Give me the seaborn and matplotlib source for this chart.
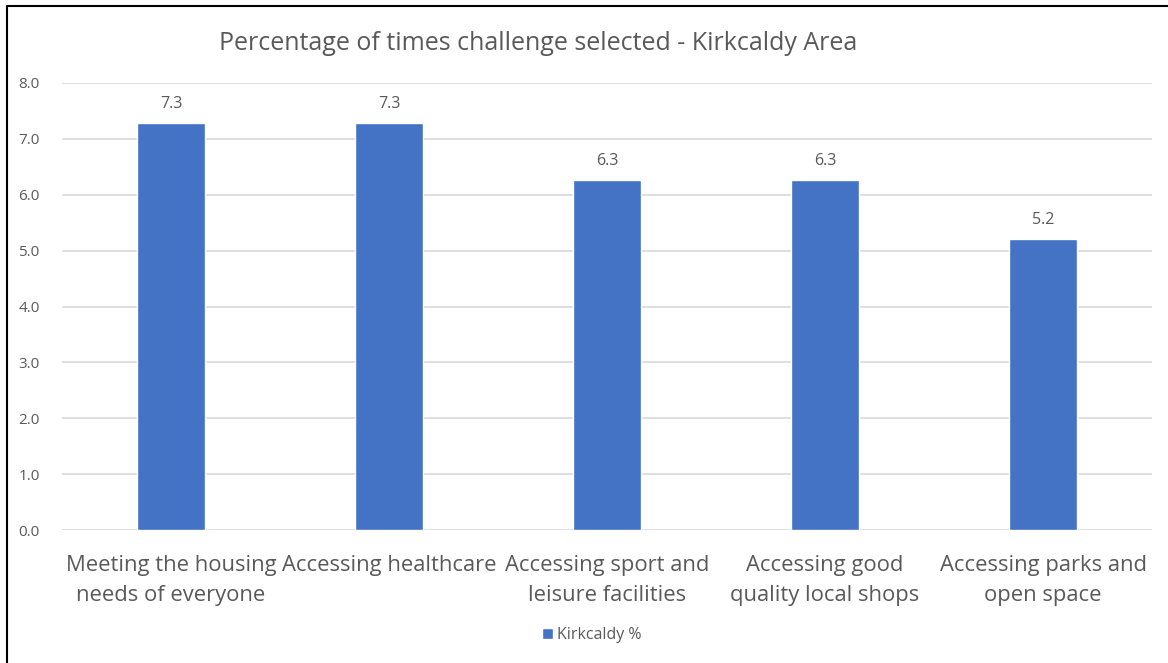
import matplotlib
matplotlib.use('Agg')
import matplotlib.pyplot as plt
import seaborn as sns
import pandas as pd
from matplotlib.patches import Patch
from matplotlib.lines import Line2D

categories = ['Meeting the housing\nneeds of everyone', 'Accessing healthcare',
              'Accessing sport and\nleisure facilities', 'Accessing good\nquality local shops',
              'Accessing parks and\nopen space']
values = [7.28, 7.28, 6.26, 6.26, 5.2]
series_name = 'Kirkcaldy %'
yticks = [0.0, 1.0, 2.0, 3.0, 4.0, 5.0, 6.0, 7.0, 8.0]

sns.set_style('white')
plt.rcParams['font.family'] = ['Open Sans', 'DejaVu Sans']

df = pd.DataFrame({'category': categories, 'value': values})

fig = plt.figure(figsize=(11.68, 6.63), dpi=100)
ax = fig.add_axes([62 / 1168, 1 - 530 / 663, 1090 / 1168, 447 / 663])

sns.barplot(data=df, x='category', y='value', color='#4472C4', width=0.31,
            saturation=1, ax=ax, zorder=3)

ax.set_ylim(0, 8)
ax.set_yticks(yticks)
ax.set_yticklabels([f'{t:.1f}' for t in yticks], color='#595959', fontsize=11)
ax.yaxis.grid(True, color='#d9d9d9', linewidth=1.2, zorder=0)
ax.tick_params(axis='y', length=0, pad=16)
ax.set_xticks(range(len(categories)))
ax.set_xticklabels(categories, fontsize=15.8, color='#595959', linespacing=1.55)
ax.tick_params(axis='x', length=0, pad=18)
ax.set_xlabel('')
ax.set_ylabel('')
for s in ax.spines.values():
    s.set_visible(False)

for p, v in zip(ax.patches, values):
    ax.annotate(f'{v:.1f}', (p.get_x() + p.get_width() / 2, v),
                xytext=(0, 8), textcoords='offset points', ha='center',
                va='bottom', fontsize=11.5, color='#595959')

fig.text(538 / 1168, 1 - 43 / 663, 'Percentage of times challenge selected - Kirkcaldy Area',
         ha='center', va='center', fontsize=18, color='#595959')

fig.legend(handles=[Patch(facecolor='#4472C4', label=series_name)],
           loc='center', bbox_to_anchor=(592 / 1168, 1 - 635 / 663), frameon=False,
           fontsize=11.5, handlelength=0.65, handleheight=0.65, handletextpad=0.3,
           labelcolor='#595959')

# outer frame of the chart area
fig.add_artist(Line2D([7 / 1168, 1], [1 - 6 / 663, 1 - 6 / 663], color='black', linewidth=1.5))
fig.add_artist(Line2D([7 / 1168, 7 / 1168], [0, 1 - 6 / 663], color='black', linewidth=1.5))

fig.savefig('out.png', dpi=100)
